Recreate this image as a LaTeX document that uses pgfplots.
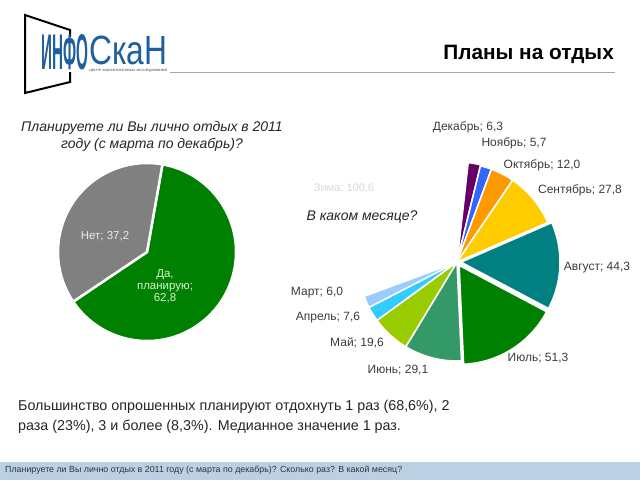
\documentclass[border=0pt]{standalone}
\usepackage{graphicx}
\usepackage{pgfplots}
\pgfplotsset{compat=1.18}
\usepackage{pgfplotstable}
\usetikzlibrary{calc}
\usepackage{fontspec}
\setmainfont{Liberation Sans}

\definecolor{logoblue}{RGB}{31,95,160}
\definecolor{pGreen}{RGB}{0,128,0}
\definecolor{pGray}{RGB}{128,128,128}
\definecolor{mDec}{RGB}{102,0,102}
\definecolor{mNov}{RGB}{51,102,255}
\definecolor{mOct}{RGB}{255,153,0}
\definecolor{mSep}{RGB}{255,204,0}
\definecolor{mAug}{RGB}{0,128,128}
\definecolor{mJul}{RGB}{0,128,0}
\definecolor{mJun}{RGB}{51,153,102}
\definecolor{mMay}{RGB}{153,204,0}
\definecolor{mApr}{RGB}{51,204,255}
\definecolor{mMar}{RGB}{153,204,255}
\definecolor{footband}{RGB}{187,208,226}
\definecolor{labtxt}{RGB}{60,60,60}

% Plan to vacation: yes / no
\pgfplotstableread{
value col ex
62.8 pGreen 0
37.2 pGray 0
}\planTable

% Months (clockwise from top); hidden slice "Зима" = 100.6 completes the circle
\pgfplotstableread{
value col ex
6.3 mDec 1
5.7 mNov 0
12.0 mOct 0
27.8 mSep 0
44.3 mAug 4
51.3 mJul 4
29.1 mJun 0
19.6 mMay 0
7.6 mApr 0
6.0 mMar 0
}\monthTable
\def\winter{100.6}

% #1 table, #2 cx, #3 cy, #4 radius, #5 start angle, #6 total, #7 border width
\newcommand{\drawpie}[7]{%
  \pgfplotstablegetrowsof{#1}%
  \pgfmathtruncatemacro{\pieN}{\pgfplotsretval-1}%
  \xdef\piecum{#5}%
  \foreach \pieidx in {0,...,\pieN} {%
    \pgfplotstablegetelem{\pieidx}{value}\of{#1}\let\pieval\pgfplotsretval
    \pgfplotstablegetelem{\pieidx}{col}\of{#1}\let\piecol\pgfplotsretval
    \pgfplotstablegetelem{\pieidx}{ex}\of{#1}\let\pieex\pgfplotsretval
    \pgfmathsetmacro{\pieA}{\piecum}%
    \pgfmathsetmacro{\pieB}{\piecum-\pieval/#6*360}%
    \pgfmathsetmacro{\pieM}{(\pieA+\pieB)/2}%
    \fill[fill=\piecol, draw=white, line width=#7, line join=round]
      ($(axis cs:#2,#3)+(\pieM:\pieex pt)$) -- ++(\pieA:#4pt)
      arc[start angle=\pieA, end angle=\pieB, radius=#4pt] -- cycle;
    \xdef\piecum{\pieB}%
  }%
}

\begin{document}
\begin{tikzpicture}
\begin{axis}[x=1pt, y=1pt, y dir=reverse, xmin=0, xmax=640, ymin=0, ymax=480,
  hide axis, clip=false]
\pgfplotsextra{
  \fill[white] (axis cs:0,0) rectangle (axis cs:640,480);
  % logo
  \draw[black, line width=2pt, line join=miter]
    (axis cs:70,37) -- (axis cs:70,30) -- (axis cs:25,15) -- (axis cs:25,93) -- (axis cs:70,82) -- (axis cs:70,72);
  \node[anchor=south west, inner sep=0, text=logoblue] at (axis cs:41,70)
    {\resizebox{47pt}{35pt}{\bfseries ИНФО}};
  \node[anchor=south west, inner sep=0, text=logoblue] at (axis cs:89,65.5)
    {\resizebox{78pt}{28.5pt}{СкаН}};
  \node[anchor=north west, inner sep=0, text=black!80] at (axis cs:89,68)
    {\resizebox{78pt}{2.8pt}{ЦЕНТР МАРКЕТИНГОВЫХ ИССЛЕДОВАНИЙ}};
  % title + rule
  \node[anchor=base east, inner sep=0, font=\fontsize{20.8}{24}\selectfont\bfseries] at (axis cs:614,59) {Планы на отдых};
  \draw[black!35, line width=1pt] (axis cs:170,72) -- (axis cs:615,72);

  % left pie
  \node[inner sep=0, font=\fontsize{14}{16}\selectfont\itshape, text=black!85] at (axis cs:152,128) {Планируете ли Вы лично отдых в 2011};
  \node[inner sep=0, font=\fontsize{14}{16}\selectfont\itshape, text=black!85] at (axis cs:152,145) {году (с марта по декабрь)?};
  \drawpie{\planTable}{147}{252}{89}{80}{100}{2.5pt}
  \node[inner sep=0, font=\fontsize{11.5}{13}\selectfont, text=white!92!black] at (axis cs:105,236) {Нет; 37,2};
  \node[inner sep=0, font=\fontsize{11.5}{13}\selectfont, text={rgb,255:red,215;green,240;blue,205}, align=center] at (axis cs:165,286) {Да,\\[-1pt] планирую;\\[-1pt] 62,8};

  % right pie
  \pgfmathsetmacro{\mtotal}{6.3+5.7+12.0+27.8+44.3+51.3+29.1+19.6+7.6+6.0+\winter}
  \drawpie{\monthTable}{457}{262}{99}{83.6}{\mtotal}{1.5pt}
  \node[inner sep=0, font=\fontsize{11}{13}\selectfont, text=black!15] at (axis cs:344,188) {Зима; 100,6};
  \node[inner sep=0, font=\fontsize{14}{16}\selectfont\itshape, text=black!85] at (axis cs:362,217) {В каком месяце?};
  \begin{scope}[every node/.style={inner sep=0, font=\fontsize{12}{14}\selectfont, text=labtxt}]
    \node at (axis cs:468,127) {Декабрь; 6,3};
    \node at (axis cs:514,143) {Ноябрь; 5,7};
    \node at (axis cs:542,165) {Октябрь; 12,0};
    \node at (axis cs:580,190) {Сентябрь; 27,8};
    \node at (axis cs:597,268) {Август; 44,3};
    \node at (axis cs:538,358) {Июль; 51,3};
    \node at (axis cs:398,370) {Июнь; 29,1};
    \node at (axis cs:357,343) {Май; 19,6};
    \node at (axis cs:328,318) {Апрель; 7,6};
    \node at (axis cs:317,293) {Март; 6,0};
  \end{scope}

  % body text
  \node[anchor=west, inner sep=0, font=\fontsize{14.3}{17}\selectfont, text=black!85] at (axis cs:18,407) {Большинство опрошенных планируют отдохнуть 1 раз (68,6\%), 2};
  \node[anchor=west, inner sep=0, font=\fontsize{14.3}{17}\selectfont, text=black!85] at (axis cs:18,427) {раза (23\%), 3 и более (8,3\%). Медианное значение 1 раз.};

  % footer
  \fill[footband] (axis cs:0,462) rectangle (axis cs:640,480);
  \node[anchor=west, inner sep=0, font=\fontsize{8.85}{10}\selectfont, text=black!80] at (axis cs:5,470.5) {Планируете ли Вы лично отдых в 2011 году (с марта по декабрь)? Сколько раз? В какой месяц?};
}
\end{axis}
\end{tikzpicture}
\end{document}
